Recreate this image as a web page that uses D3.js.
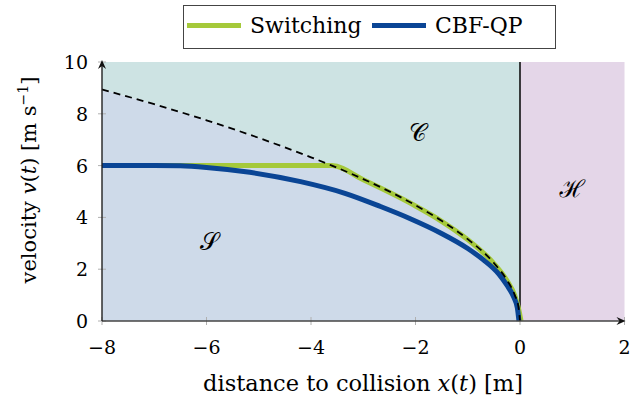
<!DOCTYPE html>
<html><head><meta charset="utf-8">
<script src="https://cdn.jsdelivr.net/npm/d3@7"></script>
<style>body{margin:0;background:#fff}svg{display:block}</style>
</head><body>
<svg id="c" width="633" height="411"></svg>
<script>
// Data
const xTicks = [-8, -6, -4, -2, 0, 2];
const yTicks = [0, 2, 4, 6, 8, 10];
const boundaryX = [-8, -7, -6, -5, -4, -3.6, -3, -2, -1.5, -1, -0.5, -0.25, -0.1, -0.03, 0];
const boundaryV = [8.94, 8.37, 7.75, 7.07, 6.32, 6.0, 5.48, 4.47, 3.87, 3.16, 2.24, 1.58, 1.0, 0.55, 0];
const switchX = [-8, -6, -4, -3.6, -3, -2, -1.5, -1, -0.5, -0.25, -0.1, -0.03, 0.02];
const switchV = [6, 6, 6, 6, 5.45, 4.44, 3.85, 3.14, 2.22, 1.56, 0.98, 0.5, 0];
const cbfX = [-8, -7, -6.5, -6, -5.17, -4.2, -3.35, -2.67, -2.1, -1.53, -1.0, -0.7, -0.4, -0.25, -0.12, -0.05, -0.02];
const cbfV = [6, 6, 5.99, 5.93, 5.74, 5.38, 4.93, 4.42, 3.95, 3.41, 2.80, 2.36, 1.80, 1.38, 0.92, 0.5, 0];
const seriesNames = ["Switching", "CBF-QP"];
const seriesColors = ["#a5c93a", "#0a4595"];

const svg = d3.select("#c");
const font = "'DejaVu Serif', 'Liberation Serif', serif";
const x = d3.scaleLinear().domain([-8, 2]).range([102, 624.5]);
const y = d3.scaleLinear().domain([0, 10]).range([321, 62]);

// Regions
const zipped = (xs, vs) => xs.map((d, i) => [d, vs[i]]);
const bnd = zipped(boundaryX, boundaryV);
svg.append("path")
  .attr("d", d3.area().x(d => x(d[0])).y0(y(10)).y1(d => y(d[1]))(bnd))
  .attr("fill", "#cde3e3");
svg.append("path")
  .attr("d", d3.area().x(d => x(d[0])).y0(y(0)).y1(d => y(d[1]))(bnd))
  .attr("fill", "#cedae9");
svg.append("rect").attr("x", x(0)).attr("y", y(10)).attr("width", x(2) - x(0)).attr("height", y(0) - y(10))
  .attr("fill", "#e4d6e8");

// ticks
svg.append("g").selectAll("line").data(xTicks).join("line")
  .attr("x1", d => x(d)).attr("x2", d => x(d)).attr("y1", y(0) - 4).attr("y2", y(0) + 4)
  .attr("stroke", "#b0b0b0").attr("stroke-width", 1);
svg.append("g").selectAll("line").data(yTicks).join("line")
  .attr("x1", x(-8) - 4).attr("x2", x(-8) + 4).attr("y1", d => y(d)).attr("y2", d => y(d))
  .attr("stroke", "#b0b0b0").attr("stroke-width", 1);

// vertical line at 0
svg.append("line").attr("x1", x(0)).attr("x2", x(0)).attr("y1", y(10)).attr("y2", y(0))
  .attr("stroke", "#111").attr("stroke-width", 1.6);

const line = d3.line().x(d => x(d[0])).y(d => y(d[1])).curve(d3.curveMonotoneX);
svg.append("path").attr("d", line(zipped(switchX, switchV))).attr("fill", "none")
  .attr("stroke", seriesColors[0]).attr("stroke-width", 5);
svg.append("path").attr("d", line(zipped(cbfX, cbfV))).attr("fill", "none")
  .attr("stroke", seriesColors[1]).attr("stroke-width", 5);
svg.append("path").attr("d", line(bnd)).attr("fill", "none")
  .attr("stroke", "#000").attr("stroke-width", 1.8).attr("stroke-dasharray", "7,5");

// axes
svg.append("line").attr("x1", x(-8)).attr("x2", x(2) - 2).attr("y1", y(0)).attr("y2", y(0))
  .attr("stroke", "#444").attr("stroke-width", 1.4);
svg.append("line").attr("x1", x(-8)).attr("x2", x(-8)).attr("y1", y(0)).attr("y2", y(10) + 2)
  .attr("stroke", "#222").attr("stroke-width", 1.4);
svg.append("path").attr("d", `M${x(2)+1},${y(0)} l-9,-4 l3,4 l-3,4 z`).attr("fill", "#111");
svg.append("path").attr("d", `M${x(-8)},${y(10)-2} l-4,9 l4,-3 l4,3 z`).attr("fill", "#111");

// tick labels
svg.append("g").selectAll("text").data(xTicks).join("text")
  .attr("x", d => x(d)).attr("y", 354).attr("text-anchor", "middle")
  .attr("font-family", font).attr("font-size", 19)
  .text(d => d < 0 ? "\u2212" + Math.abs(d) : d);
svg.append("g").selectAll("text").data(yTicks).join("text")
  .attr("x", 88).attr("y", d => y(d) + 7).attr("text-anchor", "end")
  .attr("font-family", font).attr("font-size", 19)
  .text(d => d);

// axis titles
const xl = svg.append("text").attr("x", 363).attr("y", 391).attr("text-anchor", "middle")
  .attr("font-family", font).attr("font-size", 22.5);
xl.append("tspan").text("distance to collision ");
xl.append("tspan").attr("font-style", "italic").text("x");
xl.append("tspan").text("(");
xl.append("tspan").attr("font-style", "italic").text("t");
xl.append("tspan").text(") [m]");

const yl = svg.append("text").attr("transform", "translate(36,180) rotate(-90)").attr("text-anchor", "middle")
  .attr("font-family", font).attr("font-size", 21);
yl.append("tspan").text("velocity ");
yl.append("tspan").attr("font-style", "italic").text("v");
yl.append("tspan").text("(");
yl.append("tspan").attr("font-style", "italic").text("t");
yl.append("tspan").text(") [m s");
yl.append("tspan").attr("font-size", 14).attr("dy", -8).text("\u22121");
yl.append("tspan").attr("dy", 8).text("]");

// region labels
const lab = [["\u{1D4AE}", -5.95, 2.75], ["\u{1D49E}", -1.95, 6.95], ["\u210B", 1.0, 4.8]];
svg.append("g").selectAll("text").data(lab).join("text")
  .attr("x", d => x(d[1])).attr("y", d => y(d[2])).attr("text-anchor", "middle")
  .attr("font-family", "'DejaVu Serif', 'Noto Sans', serif").attr("font-size", 24)
  .text(d => d[0]);

// legend
svg.append("rect").attr("x", 183.5).attr("y", 5.5).attr("width", 372).attr("height", 43)
  .attr("fill", "#fff").attr("stroke", "#444").attr("stroke-width", 1);
const lx = [187, 372], tx = [250, 435];
seriesNames.forEach((n, i) => {
  svg.append("line").attr("x1", lx[i]).attr("x2", lx[i] + 54).attr("y1", 25.5).attr("y2", 25.5)
    .attr("stroke", seriesColors[i]).attr("stroke-width", 5);
  svg.append("text").attr("x", tx[i]).attr("y", 33).attr("font-family", font).attr("font-size", 22).text(n);
});
</script>
</body></html>
